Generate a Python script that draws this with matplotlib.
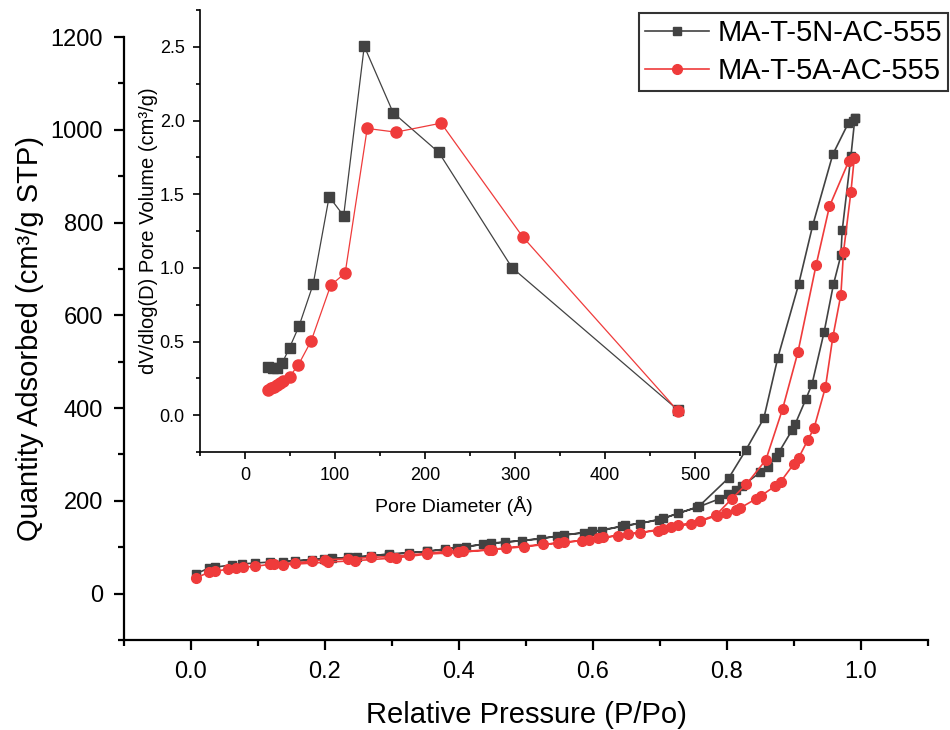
import matplotlib
matplotlib.use("Agg")
import matplotlib.pyplot as plt
from matplotlib.ticker import MultipleLocator

plt.rcParams['font.family'] = ['Liberation Sans', 'DejaVu Sans']

# isotherm, MA-T-5N-AC-555 (adsorption then desorption)
n_ads_p = [0.0075, 0.027, 0.036, 0.061, 0.076, 0.096, 0.118, 0.155, 0.181, 0.211, 0.248,
           0.268, 0.296, 0.325, 0.352, 0.379, 0.410, 0.448, 0.494, 0.547, 0.599, 0.643,
           0.699, 0.727, 0.756, 0.788, 0.802, 0.813, 0.822, 0.850, 0.861, 0.873, 0.878,
           0.897, 0.902, 0.918, 0.927, 0.945, 0.959, 0.970, 0.972, 0.985, 0.991]
n_ads_q = [43, 55, 57, 62, 64, 66, 68, 71, 73, 76, 79,
           81, 86, 88, 91, 96, 101, 109, 114, 124, 134, 145,
           159, 173, 186, 204, 215, 224, 231, 262, 273, 294, 306,
           352, 366, 420, 452, 564, 667, 729, 783, 943, 1026]
n_des_p = [0.991, 0.988, 0.981, 0.958, 0.928, 0.907, 0.876, 0.855, 0.828, 0.803, 0.758,
           0.704, 0.670, 0.648, 0.614, 0.587, 0.557, 0.523, 0.469, 0.436, 0.397, 0.352,
           0.296, 0.235, 0.199, 0.138]
n_des_q = [1026, 1020, 1014, 947, 794, 667, 509, 378, 309, 250, 188,
           162, 151, 147, 136, 131, 127, 118, 111, 106, 99, 91,
           84, 78, 75, 68]

# isotherm, MA-T-5A-AC-555
a_ads_p = [0.0075, 0.027, 0.036, 0.056, 0.067, 0.077, 0.096, 0.118, 0.124, 0.155, 0.180,
           0.200, 0.235, 0.268, 0.297, 0.326, 0.352, 0.382, 0.406, 0.450, 0.497, 0.548,
           0.594, 0.615, 0.653, 0.697, 0.716, 0.747, 0.760, 0.785, 0.799, 0.814, 0.819,
           0.843, 0.851, 0.872, 0.880, 0.900, 0.907, 0.921, 0.930, 0.947, 0.958, 0.970,
           0.974, 0.985, 0.990]
a_ads_q = [34, 46, 48, 53, 55, 57, 59, 63, 64, 66, 70,
           73, 75, 78, 80, 83, 87, 91, 91, 95, 101, 109,
           116, 121, 129, 136, 143, 150, 156, 168, 173, 181, 184,
           204, 211, 232, 241, 280, 293, 332, 357, 445, 553, 644,
           737, 866, 939]
a_des_p = [0.990, 0.982, 0.953, 0.933, 0.906, 0.883, 0.858, 0.829, 0.807, 0.784, 0.760,
           0.727, 0.704, 0.670, 0.638, 0.608, 0.583, 0.557, 0.526, 0.470, 0.445, 0.399,
           0.352, 0.306, 0.245, 0.205, 0.138]
a_des_q = [939, 933, 835, 708, 521, 398, 288, 236, 204, 170, 157,
           147, 140, 131, 125, 119, 114, 111, 106, 99, 94, 89,
           85, 77, 71, 68, 62]

# pore size distribution (inset)
n_d = [25.8, 30.9, 35.0, 41.5, 49.5, 60.0, 75.7, 93.5, 109.6, 132.5, 164.6, 215.4, 296.7, 481.6]
n_v = [0.329, 0.318, 0.322, 0.356, 0.458, 0.604, 0.888, 1.483, 1.353, 2.504, 2.053, 1.783, 1.001, 0.032]
a_d = [25.8, 28.8, 31.7, 35.0, 38.9, 42.3, 49.5, 59.2, 73.6, 95.2, 111.3, 135.8, 167.6, 217.9, 308.5, 481.6]
a_v = [0.174, 0.183, 0.192, 0.205, 0.221, 0.234, 0.262, 0.340, 0.505, 0.881, 0.965, 1.946, 1.921, 1.982, 1.211, 0.025]

grey = '#424242'
red = '#ef3b3b'

fig = plt.figure(figsize=(9.5, 7.3), dpi=100)
ax = fig.add_axes([0.1305, 0.1233, 0.8463, 0.826])

ax.plot(n_ads_p + n_des_p, n_ads_q + n_des_q, color=grey, lw=1.2, marker='s', ms=6,
        label='MA-T-5N-AC-555')
ax.plot(a_ads_p + a_des_p, a_ads_q + a_des_q, color=red, lw=1.2, marker='o', ms=7,
        label='MA-T-5A-AC-555')

ax.set_xlim(-0.1, 1.1)
ax.set_ylim(-100, 1200)
ax.xaxis.set_major_locator(MultipleLocator(0.2))
ax.xaxis.set_minor_locator(MultipleLocator(0.1))
ax.yaxis.set_major_locator(MultipleLocator(200))
ax.yaxis.set_minor_locator(MultipleLocator(100))
for s in ['top', 'right']:
    ax.spines[s].set_visible(False)
for s in ['left', 'bottom']:
    ax.spines[s].set_linewidth(1.6)
ax.tick_params(which='major', direction='out', length=7, width=1.6, labelsize=17, pad=8)
ax.tick_params(which='minor', direction='out', length=4, width=1.6)
ax.set_xlabel('Relative Pressure (P/Po)', fontsize=21, labelpad=13)
ax.set_ylabel('Quantity Adsorbed (cm³/g STP)', fontsize=21, labelpad=5)

leg = ax.legend(loc='upper right', bbox_to_anchor=(948 / 950, 1 - 13 / 730),
                bbox_transform=fig.transFigure, fontsize=21, fancybox=False,
                framealpha=1, edgecolor='#333333', borderaxespad=0, borderpad=0.2,
                handlelength=2.2, handletextpad=0.3, labelspacing=0.35)
leg.get_frame().set_linewidth(1.5)

# inset
ins = fig.add_axes([200 / 950, 1 - 452 / 730, 540 / 950, 442 / 730])
ins.patch.set_alpha(0)
ins.plot(n_d, n_v, color=grey, lw=0.9, marker='s', ms=7)
ins.plot(a_d, a_v, color=red, lw=0.9, marker='o', ms=8)
ins.set_xlim(-50, 550)
ins.set_ylim(-0.25, 2.75)
ins.xaxis.set_major_locator(MultipleLocator(100))
ins.xaxis.set_minor_locator(MultipleLocator(50))
ins.yaxis.set_major_locator(MultipleLocator(0.5))
ins.yaxis.set_minor_locator(MultipleLocator(0.25))
for s in ['top', 'right']:
    ins.spines[s].set_visible(False)
for s in ['left', 'bottom']:
    ins.spines[s].set_linewidth(1.2)
ins.tick_params(which='major', direction='out', length=5, width=1.2, labelsize=13, pad=6)
ins.tick_params(which='minor', direction='out', length=3, width=1.2)
ins.set_xlabel('Pore Diameter (Å)', fontsize=14)
ins.xaxis.set_label_coords(0.47, -0.10)
ins.set_ylabel('dV/dlog(D) Pore Volume (cm³/g)', fontsize=14.5, labelpad=1)

fig.savefig('out.png', dpi=100)
